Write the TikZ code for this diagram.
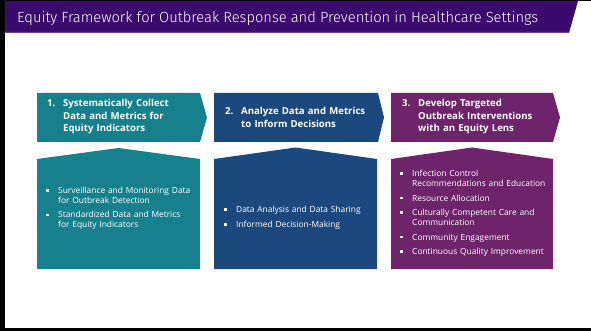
\documentclass[tikz,border=0pt]{standalone}
\usepackage{fontspec}
\setmainfont{Open Sans}
\newfontfamily\titlefont{Fira Sans Light}
\definecolor{titlepurple}{RGB}{58,10,108}
\definecolor{titleline}{RGB}{112,64,160}
\definecolor{tealc}{RGB}{23,128,141}
\definecolor{navyc}{RGB}{27,73,126}
\definecolor{purplec}{RGB}{110,36,106}
\newcommand{\hitem}[2]{\hangindent=16pt\hangafter=1\noindent\makebox[16pt][l]{#1}#2\par}
\newcommand{\bitem}[1]{\hangindent=12pt\hangafter=1\noindent\makebox[12pt][l]{\rule[0.22em]{2.6pt}{2.6pt}}#1\par}
\tikzset{
  headtext/.style={anchor=west, text=white, inner sep=0pt, text width=150pt, align=left,
    font=\bfseries\fontsize{9.6}{12.5}\selectfont},
  bodytext/.style={anchor=west, text=white, inner sep=0pt, text width=150pt, align=left,
    font=\fontsize{8.4}{10}\selectfont\setlength{\parskip}{4.6pt}},
}
\begin{document}
\begin{tikzpicture}[x=1pt,y=-1pt]
\useasboundingbox (0,0) rectangle (591,331);
\fill[white] (0,0) rectangle (591,331);
% frame
\fill[black] (0,0) rectangle (5,331);
\fill[black] (0,0) rectangle (591,1);
\fill[black] (0,328) rectangle (591,331);
% title bar
\fill[titlepurple] (5,1) -- (578,1) -- (569,33) -- (5,33) -- cycle;
\fill[titleline] (5,32) -- (569.3,32) -- (569,33) -- (5,33) -- cycle;
\node[anchor=base west, text=white, inner sep=0pt, font=\titlefont\fontsize{14.7}{16}\selectfont] (title) at (17,23)
  {Equity Framework for Outbreak Response and Prevention in Healthcare Settings};
% header chevrons
\fill[tealc] (37,93) -- (200,93) -- (207,117.5) -- (200,142) -- (37,142) -- cycle;
\fill[navyc] (214,93) -- (378,93) -- (384,117.5) -- (378,142) -- (214,142) -- cycle;
\fill[purplec] (391,93) -- (553,93) -- (560,117.5) -- (553,142) -- (391,142) -- cycle;
% body boxes
\fill[tealc] (37,159) -- (118.5,148) -- (200,159) -- (200,269) -- (37,269) -- cycle;
\fill[navyc] (214,159) -- (295.5,147.5) -- (377,159) -- (377,269) -- (214,269) -- cycle;
\fill[purplec] (391,159) -- (472,147.5) -- (553,159) -- (553,269) -- (391,269) -- cycle;
% header texts
\node[headtext] (h1) at (47,117) {\hitem{1.}{Systematically Collect\newline Data and Metrics for\newline Equity Indicators}};
\node[headtext] (h2) at (225,117.5) {\hitem{2.}{Analyze Data and Metrics\newline to Inform Decisions}};
\node[headtext] (h3) at (402,117) {\hitem{3.}{Develop Targeted\newline Outbreak Interventions\newline with an Equity Lens}};
% body texts
\node[bodytext] (b1) at (46,208.5) {\bitem{Surveillance and Monitoring Data\newline for Outbreak Detection}\bitem{Standardized Data and Metrics\newline for Equity Indicators}};
\node[bodytext] (b2) at (224,218) {\bitem{Data Analysis and Data Sharing}\bitem{Informed Decision-Making}};
\node[bodytext] (b3) at (400,213.5) {\bitem{Infection Control\newline Recommendations and Education}\bitem{Resource Allocation}\bitem{Culturally Competent Care and\newline Communication}\bitem{Community Engagement}\bitem{Continuous Quality Improvement}};
\end{tikzpicture}
\end{document}
